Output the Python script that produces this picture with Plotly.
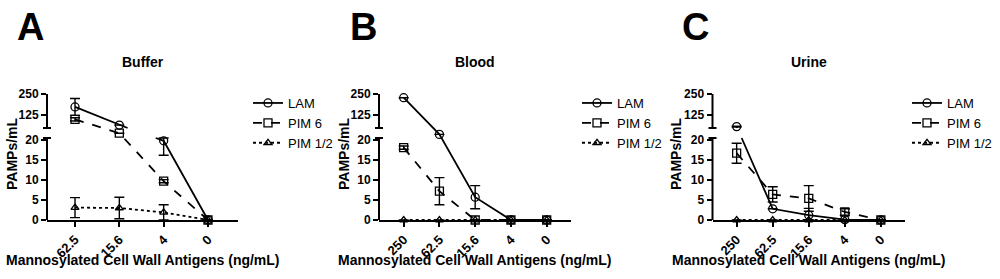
import plotly.graph_objects as go

# ---------------- data ----------------
buffer_conc = ["62.5", "15.6", "4", "0"]
blood_conc = ["250", "62.5", "15.6", "4", "0"]
urine_conc = ["250", "62.5", "15.6", "4", "0"]

buffer_lam = [173, 65, 19.8, 0]
buffer_lam_err = [50, 0, 3.6, 0]
buffer_pim6 = [99, 21.7, 9.7, 0]
buffer_pim6_err = [10, 0, 0.4, 0]
buffer_pim12 = [3.1, 3.0, 1.9, 0]
buffer_pim12_err = [2.5, 2.7, 1.9, 0]

blood_lam = [228, 21.4, 5.7, 0, 0]
blood_lam_err = [0, 0, 2.9, 0, 0]
blood_pim6 = [18.1, 7.2, 0, 0, 0]
blood_pim6_err = [0.4, 3.4, 0, 0, 0]
blood_pim12 = [0, 0, 0, 0, 0]
blood_pim12_err = [0, 0, 0, 0, 0]

urine_lam = [56, 2.8, 1.2, 0.1, 0]
urine_lam_err = [3, 0, 1.7, 0, 0]
urine_pim6 = [16.7, 6.4, 5.4, 2.0, 0]
urine_pim6_err = [2.5, 1.9, 3.2, 0.8, 0]
urine_pim12 = [0, 0, 0, 0, 0]
urine_pim12_err = [0, 0, 0, 0, 0]

y_tick_values = [0, 5, 10, 15, 20, 125, 250]
y_tick_labels = ["0", "5", "10", "15", "20", "125", "250"]

series_names = ["LAM", "PIM 6", "PIM 1/2"]

# ------------- broken axis transform -------------
LOW_TOP = 20.5   # top of lower segment (display units)
UP_BOT = 23.0    # bottom of upper segment
D_MAX = 31.5     # top of axis


def T(v):
    if v <= 22:
        return v
    if v >= 47.6:
        return 26.25 + (v - 125) * 0.042
    return 22 + (v - 22) / (47.6 - 22)


def err_pair(v, e):
    if not e:
        return None, None
    d = T(v)
    hi = T(v + e)
    lo = T(max(v - e, 0))
    if d <= LOW_TOP:
        hi = min(hi, LOW_TOP)
        lo = max(lo, 0)
    elif d >= UP_BOT:
        hi = min(hi, D_MAX)
        lo = max(lo, UP_BOT)
    return hi - d, d - lo


def split_line(xs, ds):
    ox, oy = [xs[0]], [ds[0]]
    for i in range(1, len(xs)):
        x0, d0, x1, d1 = xs[i - 1], ds[i - 1], xs[i], ds[i]
        crosses = (d0 >= UP_BOT and d1 <= LOW_TOP) or (d1 >= UP_BOT and d0 <= LOW_TOP)
        if crosses:
            def xat(d):
                return x0 + (x1 - x0) * (d - d0) / (d1 - d0)
            first, second = (UP_BOT, LOW_TOP) if d0 > d1 else (LOW_TOP, UP_BOT)
            ox += [xat(first), None, xat(second)]
            oy += [first, None, second]
        ox.append(x1)
        oy.append(d1)
    return ox, oy


FONT = "Arial, 'Liberation Sans', Helvetica, sans-serif"
W, H = 1000, 279


def px(x):
    return x / W


def py(y):
    return 1 - y / H


styles = {
    "LAM": dict(symbol="circle-open", dash="solid", width=1.8, size=8),
    "PIM 6": dict(symbol="square-open", dash="dash", width=1.8, size=8),
    "PIM 1/2": dict(symbol="triangle-up-open", dash="dot", width=1.8, size=7),
}

panels = [
    dict(letter="A", title="Buffer", cats=buffer_conc,
         data=[(buffer_lam, buffer_lam_err), (buffer_pim6, buffer_pim6_err), (buffer_pim12, buffer_pim12_err)],
         dom=(47, 238), xr=(-0.632, 3.677), legx=248, letx=30, ytx=12),
    dict(letter="B", title="Blood", cats=blood_conc,
         data=[(blood_lam, blood_lam_err), (blood_pim6, blood_pim6_err), (blood_pim12, blood_pim12_err)],
         dom=(379, 571), xr=(-0.69, 4.68), legx=577, letx=363, ytx=344),
    dict(letter="C", title="Urine", cats=urine_conc,
         data=[(urine_lam, urine_lam_err), (urine_pim6, urine_pim6_err), (urine_pim12, urine_pim12_err)],
         dom=(712.5, 905), xr=(-0.67, 4.67), legx=907, letx=695, ytx=676),
]

fig = go.Figure()
annotations = []
shapes = []
layout_axes = {}
Y_BOTTOM_PX, Y_TOP_PX = 220, 94

for pi, p in enumerate(panels):
    n = pi + 1
    xa = "x" if n == 1 else f"x{n}"
    ya = "y" if n == 1 else f"y{n}"
    leg = "legend" if n == 1 else f"legend{n}"
    xs = list(range(len(p["cats"])))
    for name, (vals, errs) in zip(series_names, p["data"]):
        st = styles[name]
        ds = [T(v) for v in vals]
        lx, ly = split_line(xs, ds)
        fig.add_trace(go.Scatter(
            x=lx, y=ly, mode="lines", xaxis=xa, yaxis=ya, showlegend=False,
            line=dict(color="black", width=st["width"], dash=st["dash"]),
            connectgaps=False, hoverinfo="skip", legend=leg))
        plus, minus = [], []
        for v, e in zip(vals, errs):
            a, b = err_pair(v, e)
            plus.append(a)
            minus.append(b)
        fig.add_trace(go.Scatter(
            x=xs, y=ds, mode="markers", xaxis=xa, yaxis=ya, showlegend=False,
            cliponaxis=False, legend=leg,
            marker=dict(symbol=st["symbol"], size=st["size"], color="black",
                        line=dict(color="black", width=1.3)),
            error_y=dict(type="data", array=plus, arrayminus=minus, symmetric=False,
                         color="black", thickness=1.4, width=5)))
        fig.add_trace(go.Scatter(
            x=[None], y=[None], mode="lines+markers", xaxis=xa, yaxis=ya,
            name=name, legend=leg, showlegend=True,
            line=dict(color="black", width=st["width"], dash=st["dash"]),
            marker=dict(symbol=st["symbol"], size=st["size"], color="black",
                        line=dict(color="black", width=1.3))))

    xkey = "xaxis" if n == 1 else f"xaxis{n}"
    ykey = "yaxis" if n == 1 else f"yaxis{n}"
    layout_axes[xkey] = dict(
        domain=[px(p["dom"][0]), px(p["dom"][1])], anchor=ya, range=list(p["xr"]),
        tickmode="array", tickvals=xs, ticktext=p["cats"], tickangle=-45,
        ticks="outside", ticklen=5, tickwidth=1.5, tickcolor="black", automargin=False,
        showline=True, linecolor="black", linewidth=2, showgrid=False, zeroline=False,
        tickfont=dict(family=FONT, size=13, color="black", weight="bold"))
    layout_axes[ykey] = dict(
        domain=[py(Y_BOTTOM_PX), py(Y_TOP_PX)], anchor=xa, range=[0, D_MAX],
        tickmode="array", tickvals=[T(v) for v in y_tick_values], ticktext=y_tick_labels,
        ticks="outside", ticklen=5, tickwidth=2, tickcolor="black", automargin=False,
        showline=False, showgrid=False, zeroline=False,
        tickfont=dict(family=FONT, size=12, color="black", weight="bold"))
    layout_axes[leg] = dict(
        x=px(p["legx"]), y=py(88), xanchor="left", yanchor="top",
        bgcolor="rgba(0,0,0,0)", borderwidth=0, tracegroupgap=0,
        font=dict(family=FONT, size=13, color="black"))

    # broken y axis segments
    xd = f"{xa} domain"
    for y0, y1 in [(0, LOW_TOP), (UP_BOT, D_MAX)]:
        shapes.append(dict(type="line", xref=xd, yref=ya, x0=0, x1=0, y0=y0, y1=y1,
                           line=dict(color="black", width=2)))
    for yc in [LOW_TOP, UP_BOT]:
        shapes.append(dict(type="line", xref=xd, yref=ya, xsizemode="pixel", xanchor=0,
                           x0=-4, x1=4, y0=yc, y1=yc, line=dict(color="black", width=2)))

    cx = (p["dom"][0] + p["dom"][1]) / 2
    annotations += [
        dict(text=p["letter"], x=px(p["letx"]), y=py(27), xref="paper", yref="paper",
             showarrow=False, xanchor="center", yanchor="middle",
             font=dict(family=FONT, size=38, color="black", weight="bold")),
        dict(text=p["title"], x=px(cx), y=py(62), xref="paper", yref="paper",
             showarrow=False, xanchor="center", yanchor="middle",
             font=dict(family=FONT, size=14, color="black", weight="bold")),
        dict(text="Mannosylated Cell Wall Antigens (ng/mL)", x=px(cx), y=py(260),
             xref="paper", yref="paper", showarrow=False, xanchor="center", yanchor="middle",
             font=dict(family=FONT, size=14, color="black", weight="bold")),
        dict(text="PAMPs/mL", x=px(p["ytx"]), y=py(154), xref="paper", yref="paper",
             showarrow=False, xanchor="center", yanchor="middle", textangle=-90,
             font=dict(family=FONT, size=14, color="black", weight="bold")),
    ]

fig.update_layout(
    width=W, height=H, margin=dict(l=0, r=0, t=0, b=0, autoexpand=False),
    paper_bgcolor="white", plot_bgcolor="white",
    annotations=annotations, shapes=shapes, **layout_axes)

fig.write_html("out.html")
